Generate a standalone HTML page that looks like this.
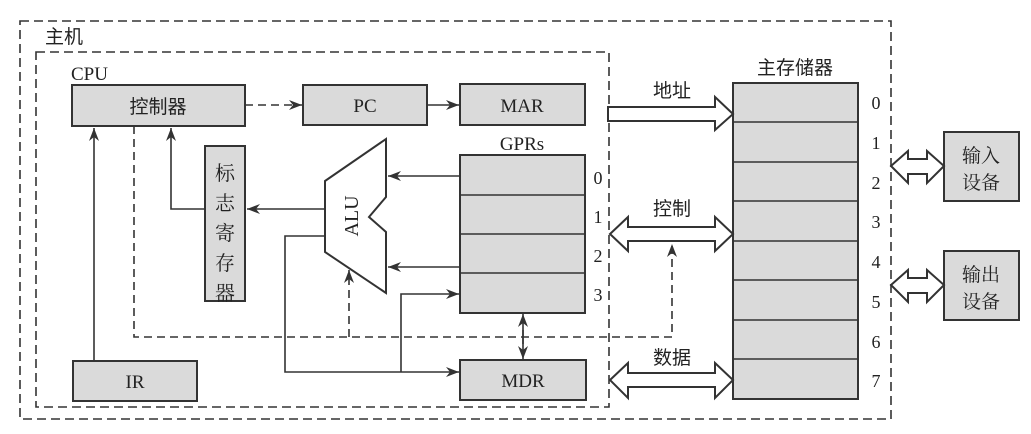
<!DOCTYPE html>
<html><head><meta charset="utf-8"><style>
html,body{margin:0;padding:0;background:#fff;}
svg{display:block;}
text{font-family:"Liberation Serif","Noto Serif CJK SC",serif;fill:#222;}
.cn{font-family:"Liberation Sans","Noto Sans CJK SC",sans-serif;}
</style></head><body>
<svg width="1031" height="434" viewBox="0 0 1031 434" xmlns="http://www.w3.org/2000/svg">
<defs>
<marker id="ah" markerWidth="14" markerHeight="10" refX="13" refY="5" orient="auto" markerUnits="userSpaceOnUse">
<path d="M0,0 L13,5 L0,10 L4,5 Z" fill="#333"/>
</marker>
</defs>
<g fill="none" stroke="#333" stroke-width="1.6" stroke-dasharray="9,5">
<rect x="20" y="21" width="871" height="398"/>
<rect x="36" y="52" width="573" height="355"/>
</g>
<text x="45" y="43" font-size="19" class="cn">主机</text>
<text x="71" y="80" font-size="19">CPU</text>

<g fill="#dadada" stroke="#333" stroke-width="2">
<rect x="72" y="85" width="173" height="41"/>
<rect x="303" y="85" width="124" height="40"/>
<rect x="460" y="84" width="125" height="41"/>
<rect x="460" y="155" width="125" height="158"/>
<rect x="205" y="146" width="40" height="155"/>
<rect x="73" y="361" width="124" height="40"/>
<rect x="460" y="360" width="126" height="40"/>
<rect x="733" y="83" width="125" height="316"/>
<rect x="944" y="132" width="75" height="69"/>
<rect x="944" y="251" width="75" height="69"/>
</g>
<g stroke="#333" stroke-width="1.6">
<line x1="460" y1="195" x2="585" y2="195"/>
<line x1="460" y1="234" x2="585" y2="234"/>
<line x1="460" y1="273" x2="585" y2="273"/>
<line x1="733" y1="122" x2="858" y2="122"/>
<line x1="733" y1="162" x2="858" y2="162"/>
<line x1="733" y1="201" x2="858" y2="201"/>
<line x1="733" y1="241" x2="858" y2="241"/>
<line x1="733" y1="280" x2="858" y2="280"/>
<line x1="733" y1="320" x2="858" y2="320"/>
<line x1="733" y1="359" x2="858" y2="359"/>
</g>
<polygon points="325,181 386,139 386,197 369,217 386,232 386,293 325,252" fill="#fff" stroke="#333" stroke-width="2"/>
<text x="0" y="0" font-size="20" text-anchor="middle" transform="translate(358,216) rotate(-90)">ALU</text>

<text x="158" y="113" font-size="19" text-anchor="middle" class="cn">控制器</text>
<text x="365" y="112" font-size="19" text-anchor="middle">PC</text>
<text x="522" y="112" font-size="19" text-anchor="middle">MAR</text>
<text x="522" y="150" font-size="19" text-anchor="middle">GPRs</text>
<text x="135" y="388" font-size="19" text-anchor="middle">IR</text>
<text x="523" y="387" font-size="19" text-anchor="middle">MDR</text>
<g font-size="20" text-anchor="middle" class="cn">
<text x="225" y="180">标</text><text x="225" y="210">志</text><text x="225" y="240">寄</text><text x="225" y="270">存</text><text x="225" y="300">器</text>
</g>
<g font-size="18" text-anchor="middle">
<text x="598" y="184">0</text><text x="598" y="223">1</text><text x="598" y="262">2</text><text x="598" y="301">3</text>
<text x="876" y="109">0</text><text x="876" y="149">1</text><text x="876" y="189">2</text><text x="876" y="228">3</text>
<text x="876" y="268">4</text><text x="876" y="308">5</text><text x="876" y="348">6</text><text x="876" y="387">7</text>
</g>
<text x="795" y="74" font-size="19" text-anchor="middle" class="cn">主存储器</text>
<text x="672" y="97" font-size="19" text-anchor="middle" class="cn">地址</text>
<text x="672" y="215" font-size="19" text-anchor="middle" class="cn">控制</text>
<text x="672" y="364" font-size="19" text-anchor="middle" class="cn">数据</text>
<g font-size="19" text-anchor="middle" class="cn">
<text x="981" y="162">输入</text><text x="981" y="189">设备</text>
<text x="981" y="281">输出</text><text x="981" y="308">设备</text>
</g>

<g fill="none" stroke="#333" stroke-width="1.6">
<line x1="245" y1="105" x2="302" y2="105" stroke-dasharray="8,5" marker-end="url(#ah)"/>
<line x1="427" y1="105" x2="459" y2="105" marker-end="url(#ah)"/>
<line x1="460" y1="176" x2="388" y2="176" marker-end="url(#ah)"/>
<line x1="460" y1="267" x2="388" y2="267" marker-end="url(#ah)"/>
<line x1="325" y1="209" x2="247" y2="209" marker-end="url(#ah)"/>
<polyline points="205,209 171,209 171,128" marker-end="url(#ah)"/>
<line x1="94" y1="361" x2="94" y2="128" marker-end="url(#ah)"/>
<polyline points="325,236 285,236 285,372 459,372" marker-end="url(#ah)"/>
<polyline points="401,372 401,294 459,294" marker-end="url(#ah)"/>
<line x1="523" y1="330" x2="523" y2="359" marker-end="url(#ah)"/>
<line x1="523" y1="344" x2="523" y2="314" marker-end="url(#ah)"/>
<g stroke-dasharray="8,5">
<polyline points="134,126 134,337 672,337 672,244" marker-end="url(#ah)"/>
<line x1="349" y1="337" x2="349" y2="270" marker-end="url(#ah)"/>
</g>
</g>

<g fill="#fff" stroke="#333" stroke-width="2">
<polygon points="608,107 715,107 715,97 733,114 715,130 715,121 608,121"/>
<polygon points="610,234 628,217 628,227 715,227 715,217 733,234 715,251 715,241 628,241 628,251"/>
<polygon points="610,380 628,363 628,373 715,373 715,363 733,380 715,398 715,387 628,387 628,398"/>
<polygon points="891,166 908,151 908,159 927,159 927,151 944,166 927,183 927,174 908,174 908,183"/>
<polygon points="891,285 908,270 908,278 927,278 927,270 944,285 927,302 927,293 908,293 908,302"/>
</g>
</svg>
</body></html>
